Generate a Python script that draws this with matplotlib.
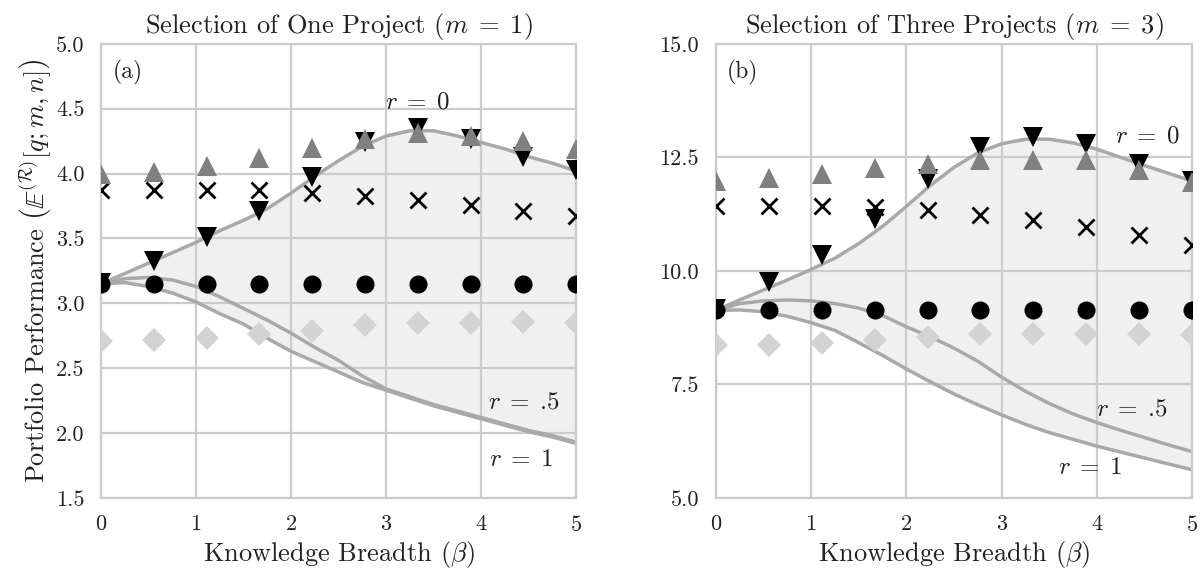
import numpy as np
import matplotlib
matplotlib.use("Agg")
import matplotlib.pyplot as plt
from matplotlib.ticker import FormatStrFormatter

# simulation points (10 values of beta)
beta_pts = np.linspace(0, 5, 10)

# m = 1
m1_up = [4.00, 4.01, 4.06, 4.12, 4.20, 4.27, 4.31, 4.29, 4.25, 4.19]
m1_down = [3.16, 3.33, 3.51, 3.71, 3.97, 4.24, 4.35, 4.27, 4.13, 4.03]
m1_cross = [3.87, 3.87, 3.87, 3.87, 3.85, 3.83, 3.80, 3.76, 3.71, 3.67]
m1_circle = [3.15, 3.15, 3.15, 3.15, 3.15, 3.15, 3.15, 3.15, 3.15, 3.15]
m1_diamond = [2.71, 2.72, 2.73, 2.76, 2.79, 2.83, 2.85, 2.85, 2.86, 2.85]

# m = 3
m3_up = [11.99, 12.05, 12.13, 12.27, 12.35, 12.45, 12.45, 12.44, 12.22, 11.96]
m3_down = [9.15, 9.76, 10.34, 11.15, 12.02, 12.72, 12.94, 12.79, 12.35, 11.99]
m3_cross = [11.44, 11.44, 11.44, 11.40, 11.34, 11.24, 11.12, 10.96, 10.78, 10.56]
m3_circle = [9.13, 9.13, 9.13, 9.13, 9.13, 9.13, 9.13, 9.13, 9.13, 9.13]
m3_diamond = [8.36, 8.37, 8.42, 8.47, 8.55, 8.60, 8.62, 8.62, 8.62, 8.58]

# theoretical curves
beta_line = [0, 0.25, 0.5, 0.75, 1.0, 1.25, 1.5, 1.75, 2.0, 2.25, 2.5,
             2.75, 3.0, 3.25, 3.5, 3.75, 4.0, 4.25, 4.5, 4.75, 5.0]
m1_r0 = [3.15, 3.23, 3.31, 3.39, 3.47, 3.56, 3.64, 3.73, 3.85, 3.98, 4.10,
         4.21, 4.29, 4.33, 4.33, 4.29, 4.24, 4.19, 4.13, 4.08, 4.02]
m1_r05 = [3.15, 3.19, 3.20, 3.18, 3.13, 3.05, 2.96, 2.87, 2.77, 2.66, 2.56,
          2.44, 2.34, 2.28, 2.22, 2.17, 2.12, 2.07, 2.02, 1.98, 1.93]
m1_r1 = [3.15, 3.16, 3.13, 3.08, 3.01, 2.92, 2.84, 2.73, 2.63, 2.55, 2.47,
         2.39, 2.33, 2.27, 2.21, 2.16, 2.11, 2.06, 2.01, 1.97, 1.92]
m3_r0 = [9.13, 9.36, 9.58, 9.80, 10.03, 10.28, 10.60, 10.98, 11.42, 11.88, 12.28,
         12.60, 12.80, 12.90, 12.90, 12.82, 12.68, 12.50, 12.32, 12.15, 11.98]
m3_r05 = [9.13, 9.28, 9.34, 9.36, 9.34, 9.28, 9.18, 9.02, 8.77, 8.55, 8.30,
          8.01, 7.66, 7.35, 7.08, 6.85, 6.66, 6.49, 6.33, 6.17, 6.02]
m3_r1 = [9.13, 9.14, 9.10, 9.00, 8.86, 8.69, 8.42, 8.14, 7.84, 7.56, 7.29,
         7.05, 6.83, 6.62, 6.44, 6.29, 6.14, 6.01, 5.88, 5.75, 5.62]

plt.rcParams['font.family'] = 'cmr10'
plt.rcParams['mathtext.fontset'] = 'cm'
plt.rcParams['axes.unicode_minus'] = False
plt.rcParams['axes.formatter.use_mathtext'] = True

grid_col = '#cccccc'
line_col = '#a9a9a9'
txt_col = '#222222'


def draw_panel(ax, up, down, cross, circle, diamond, r0, r05, r1):
    ax.fill_between(beta_line, r1, r0, color='#f0f0f0', lw=0, zorder=0.3)
    ax.plot(beta_line, r0, color=line_col, lw=2.5, zorder=2)
    ax.plot(beta_line, r05, color=line_col, lw=2.5, zorder=2)
    ax.plot(beta_line, r1, color=line_col, lw=2.5, zorder=2)
    ax.plot(beta_pts, diamond, 'D', color='#d3d3d3', ms=12, mew=0, zorder=3)
    ax.plot(beta_pts, circle, 'o', color='black', ms=13, mew=0, zorder=3)
    ax.plot(beta_pts, cross, 'x', color='black', ms=11, mew=2, zorder=3)
    ax.plot(beta_pts, down, 'v', color='black', ms=14, mew=0, zorder=3)
    ax.plot(beta_pts, up, '^', color='#808080', ms=14, mew=0, zorder=3)
    ax.set_xlim(0, 5)
    ax.grid(True, color=grid_col, lw=1.6)
    ax.set_axisbelow(True)
    for s in ax.spines.values():
        s.set_color(grid_col)
        s.set_linewidth(1.6)
    ax.tick_params(length=0, labelsize=16, colors=txt_col)
    ax.tick_params(axis='y', pad=12)
    ax.tick_params(axis='x', pad=12)
    ax.yaxis.set_major_formatter(FormatStrFormatter('%.1f'))
    ax.set_xlabel(r'Knowledge Breadth ($\beta$)', fontsize=19, labelpad=3, color=txt_col)


fig = plt.figure(figsize=(12.03, 5.77), dpi=100)
ax1 = fig.add_axes([0.084, 0.137, 0.395, 0.787])
ax2 = fig.add_axes([0.595, 0.137, 0.396, 0.787])

draw_panel(ax1, m1_up, m1_down, m1_cross, m1_circle, m1_diamond, m1_r0, m1_r05, m1_r1)
ax1.set_ylim(1.5, 5.0)
ax1.set_yticks([1.5, 2.0, 2.5, 3.0, 3.5, 4.0, 4.5, 5.0])
ax1.set_title(r'Selection of One Project ($m\;=\;1$)', fontsize=19, pad=8, color=txt_col)
ax1.set_ylabel(r'Portfolio Performance $\left(\mathbb{E}^{(\mathcal{R})}[q;m,n]\right)$',
               fontsize=19, labelpad=2, color=txt_col)
ax1.text(0.28, 4.78, '(a)', fontsize=17, ha='center', va='center', color=txt_col)
ax1.text(3.33, 4.55, r'$r\;=\;0$', fontsize=18, ha='center', va='center', color=txt_col)
ax1.text(4.45, 2.24, r'$r\;=\;$.5', fontsize=18, ha='center', va='center', color=txt_col)
ax1.text(4.42, 1.79, r'$r\;=\;1$', fontsize=18, ha='center', va='center', color=txt_col)

draw_panel(ax2, m3_up, m3_down, m3_cross, m3_circle, m3_diamond, m3_r0, m3_r05, m3_r1)
ax2.set_ylim(5.0, 15.0)
ax2.set_yticks([5.0, 7.5, 10.0, 12.5, 15.0])
ax2.set_title(r'Selection of Three Projects ($m\;=\;3$)', fontsize=19, pad=8, color=txt_col)
ax2.text(0.28, 14.36, '(b)', fontsize=17, ha='center', va='center', color=txt_col)
ax2.text(4.53, 12.96, r'$r\;=\;0$', fontsize=18, ha='center', va='center', color=txt_col)
ax2.text(4.37, 6.94, r'$r\;=\;$.5', fontsize=18, ha='center', va='center', color=txt_col)
ax2.text(3.93, 5.66, r'$r\;=\;1$', fontsize=18, ha='center', va='center', color=txt_col)

fig.savefig('out.png', dpi=100)
